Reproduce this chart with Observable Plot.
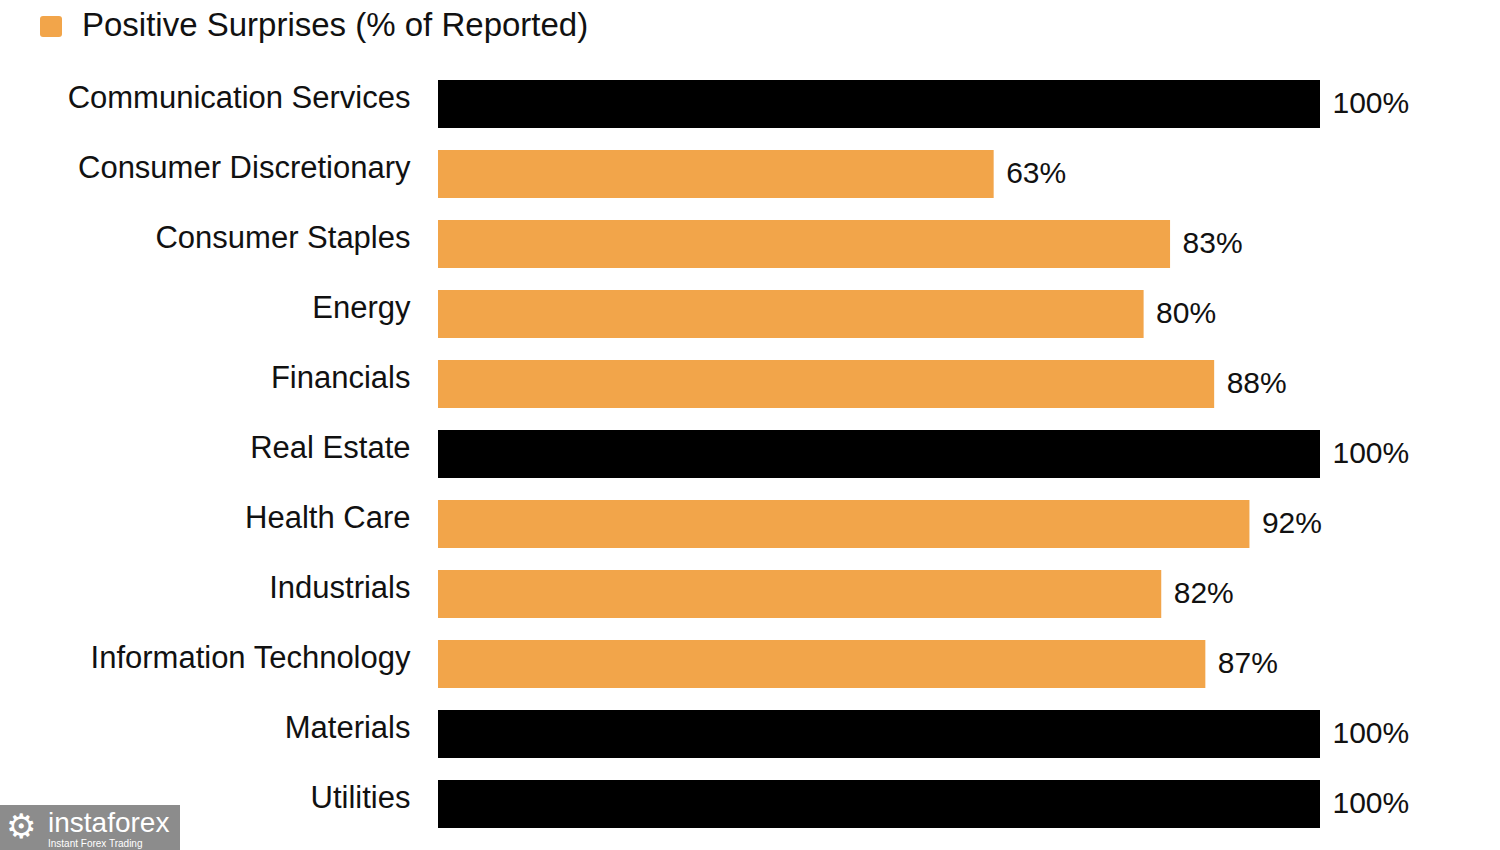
<!DOCTYPE html>
<html>
<head>
<meta charset="utf-8">
<script src="https://cdn.jsdelivr.net/npm/d3@7"></script>
<script src="https://cdn.jsdelivr.net/npm/@observablehq/plot@0.6"></script>
<style>
  html, body { margin: 0; padding: 0; background: #fff; }
  body { width: 1500px; height: 850px; position: relative; overflow: hidden; font-family: "Liberation Sans", Arial, sans-serif; }
  #legend { height: 60px; position: relative; }
  #legend .sw { position: absolute; left: 40px; top: 16px; width: 22px; height: 21px; background: #F2A54A; border-radius: 3px; }
  #legend .lb { position: absolute; left: 82px; top: 7px; font-size: 33px; line-height: 36px; color: #111; white-space: nowrap; }
  #wm { position: absolute; left: 0; top: 805px; width: 180px; height: 45px; background: #8c8c8c; color: #fff; }
  #wm span { position: absolute; line-height: 1; white-space: nowrap; }
  #wm .big { left: 48px; top: 4px; font-size: 28px; }
  #wm .small { left: 48px; top: 34px; font-size: 10px; }
  #wm .gear { left: 6px; top: 4px; font-size: 34px; }
</style>
</head>
<body>
<div id="legend"><div class="sw"></div><div class="lb">Positive Surprises (% of Reported)</div></div>
<div id="chart"></div>
<div id="wm"><span class="gear">⚙</span><span class="big">instaforex</span><span class="small">Instant Forex Trading</span></div>
<script>
const sectors = ["Communication Services", "Consumer Discretionary", "Consumer Staples", "Energy", "Financials", "Real Estate", "Health Care", "Industrials", "Information Technology", "Materials", "Utilities"];
const positivePct = [100, 63, 83, 80, 88, 100, 92, 82, 87, 100, 100];
const valueLabels = ["100%", "63%", "83%", "80%", "88%", "100%", "92%", "82%", "87%", "100%", "100%"];

const rows = sectors.map((s, i) => ({sector: s, value: positivePct[i], label: valueLabels[i]}));

const chart = Plot.plot({
  width: 1500,
  height: 790,
  marginLeft: 438,
  marginRight: 180,
  marginTop: 9,
  marginBottom: 11,
  style: {fontFamily: "'Liberation Sans', Arial, sans-serif", background: "#fff"},
  x: {domain: [0, 100], axis: null},
  y: {domain: sectors, axis: null, paddingInner: 0.31, paddingOuter: 0.155},
  marks: [
    Plot.barX(rows, {y: "sector", x: "value", fill: d => d.value === 100 ? "#000000" : "#F2A54A"}),
    Plot.text(rows, {y: "sector", x: "value", text: "label", textAnchor: "start", dx: 12, dy: -1, fontSize: 30, fill: "#111"}),
    Plot.text(rows, {y: "sector", x: 0, text: "sector", textAnchor: "end", dx: -28, dy: -6, fontSize: 31, fill: "#111"})
  ]
});
document.getElementById("chart").appendChild(chart);
</script>
</body>
</html>
